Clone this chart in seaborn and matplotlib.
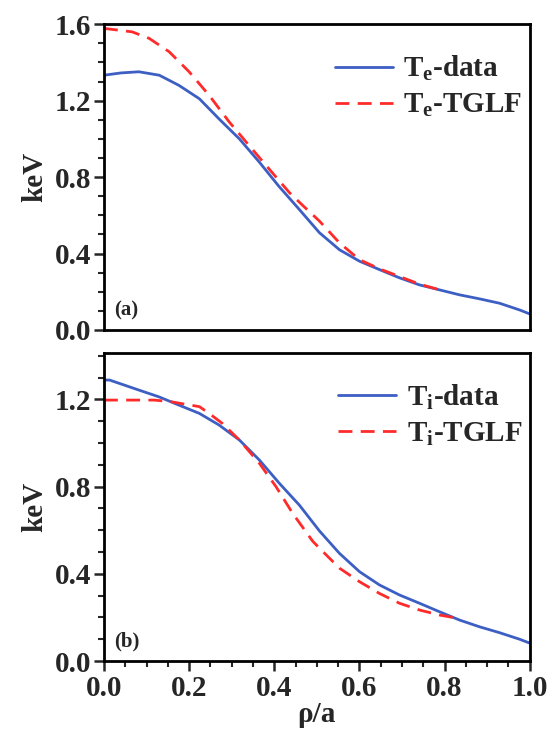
import numpy as np
import pandas as pd
import matplotlib
matplotlib.use("Agg")
import matplotlib.pyplot as plt
import seaborn as sns
from matplotlib.ticker import MultipleLocator

# ---- data ----
rho_te_data = [0.0, 0.04, 0.082, 0.13, 0.176, 0.224, 0.27, 0.318, 0.365, 0.41, 0.459,
               0.506, 0.553, 0.6, 0.647, 0.694, 0.741, 0.788, 0.835, 0.882, 0.929,
               0.976, 1.0]
te_data = [1.333, 1.345, 1.351, 1.333, 1.28, 1.21, 1.105, 1.0, 0.878, 0.754, 0.63,
           0.509, 0.42, 0.36, 0.316, 0.273, 0.236, 0.21, 0.184, 0.163, 0.14,
           0.105, 0.084]
rho_te_tglf = [0.0, 0.066, 0.106, 0.153, 0.2, 0.247, 0.294, 0.341, 0.388, 0.435, 0.47,
               0.506, 0.553, 0.6, 0.647, 0.694, 0.741, 0.795]
te_tglf = [1.578, 1.56, 1.526, 1.456, 1.351, 1.228, 1.089, 0.965, 0.842, 0.72, 0.645,
           0.57, 0.456, 0.368, 0.32, 0.28, 0.24, 0.206]

rho_ti_data = [0.0, 0.013, 0.082, 0.129, 0.176, 0.224, 0.27, 0.318, 0.365, 0.412, 0.459,
               0.506, 0.553, 0.6, 0.647, 0.694, 0.741, 0.788, 0.835, 0.882, 0.929,
               0.976, 1.0]
ti_data = [1.289, 1.289, 1.243, 1.212, 1.174, 1.136, 1.083, 1.014, 0.922, 0.815, 0.715,
           0.597, 0.494, 0.41, 0.349, 0.303, 0.265, 0.226, 0.188, 0.157, 0.13,
           0.10, 0.082]
rho_ti_tglf = [0.0, 0.118, 0.157, 0.176, 0.224, 0.247, 0.278, 0.318, 0.365, 0.404, 0.443,
               0.49, 0.506, 0.553, 0.6, 0.647, 0.694, 0.741, 0.788, 0.819]
ti_tglf = [1.197, 1.197, 1.19, 1.183, 1.167, 1.136, 1.09, 1.014, 0.907, 0.80, 0.678,
           0.55, 0.518, 0.426, 0.364, 0.31, 0.265, 0.234, 0.211, 0.20]

yticks_top = [0.0, 0.4, 0.8, 1.2, 1.6]
yticks_bot = [0.0, 0.4, 0.8, 1.2]
xticks = [0.0, 0.2, 0.4, 0.6, 0.8, 1.0]

sns.set_theme(style="white")
plt.rcParams['font.family'] = ['Liberation Serif', 'DejaVu Serif']
plt.rcParams['font.weight'] = 'bold'
plt.rcParams['mathtext.fontset'] = 'custom'
plt.rcParams['mathtext.rm'] = 'Liberation Serif:bold'
plt.rcParams['mathtext.it'] = 'Liberation Serif:bold'
plt.rcParams['mathtext.bf'] = 'Liberation Serif:bold'
plt.rcParams['mathtext.default'] = 'rm'

BLUE = '#3d5fc4'
RED = '#ff2b2b'
FS = 21

fig = plt.figure(figsize=(5.53, 7.33), dpi=100)
ax1 = fig.add_axes([0.188, 0.5498, 0.770, 0.4172])
ax2 = fig.add_axes([0.188, 0.0982, 0.770, 0.4202])


def draw(ax, xd, yd, xt, yt, sub):
    dfd = pd.DataFrame({'rho': xd, 'T': yd})
    dft = pd.DataFrame({'rho': xt, 'T': yt})
    sns.lineplot(data=dfd, x='rho', y='T', ax=ax, color=BLUE, lw=2.0,
                 label='T$_\\mathrm{%s}$-data' % sub)
    sns.lineplot(data=dft, x='rho', y='T', ax=ax, color=RED, lw=2.0,
                 dashes=False, label='T$_\\mathrm{%s}$-TGLF' % sub)
    ax.lines[-1].set_linestyle((0, (5, 3)))
    for ln in ax.lines:
        ln.set_solid_joinstyle('round')
        ln.set_dash_joinstyle('round')


draw(ax1, rho_te_data, te_data, rho_te_tglf, te_tglf, 'e')
draw(ax2, rho_ti_data, ti_data, rho_ti_tglf, ti_tglf, 'i')

for ax in (ax1, ax2):
    ax.set_xlim(0, 1.0)
    for s in ax.spines.values():
        s.set_linewidth(2.0)
        s.set_color('black')
        s.set_visible(True)
    ax.yaxis.set_minor_locator(MultipleLocator(0.1))
    ax.tick_params(axis='y', which='major', direction='out', length=7, width=1.8,
                   left=True, right=False, labelsize=FS, pad=2)
    ax.tick_params(axis='y', which='minor', direction='out', length=4, width=1.5,
                   left=True, right=False)
    ax.set_ylabel('keV', fontsize=FS, fontweight='bold', labelpad=5)
    ax.legend(loc='upper right', frameon=False, fontsize=FS, handlelength=2.0,
              handletextpad=0.35, labelspacing=0.3, borderaxespad=0.3,
              bbox_to_anchor=(1.03, 0.97))

ax1.set_ylim(0, 1.6)
ax1.set_yticks(yticks_top)
ax1.set_yticklabels([f'{v:.1f}' for v in yticks_top], fontweight='bold')
ax1.set_xticks(xticks)
ax1.tick_params(axis='x', which='both', bottom=False, top=False, labelbottom=False)
ax1.set_xlabel('')

ax2.set_ylim(0, 1.413)
ax2.set_yticks(yticks_bot)
ax2.set_yticklabels([f'{v:.1f}' for v in yticks_bot], fontweight='bold')
ax2.set_xticks(xticks)
ax2.set_xticklabels([f'{v:.1f}' for v in xticks], fontweight='bold')
ax2.xaxis.set_minor_locator(MultipleLocator(0.05))
ax2.tick_params(axis='x', which='major', direction='out', length=7, width=1.8,
                bottom=True, top=False, labelsize=FS, pad=3)
ax2.tick_params(axis='x', which='minor', direction='out', length=4, width=1.5,
                bottom=True, top=False)
ax2.set_xlabel('ρ/a', fontsize=FS, fontweight='bold', labelpad=-1)

ax1.text(0.025, 0.065, '(a)', transform=ax1.transAxes, fontsize=15, fontweight='bold',
         va='center', ha='left')
ax2.text(0.025, 0.065, '(b)', transform=ax2.transAxes, fontsize=15, fontweight='bold',
         va='center', ha='left')

fig.savefig('out.png', dpi=100)
